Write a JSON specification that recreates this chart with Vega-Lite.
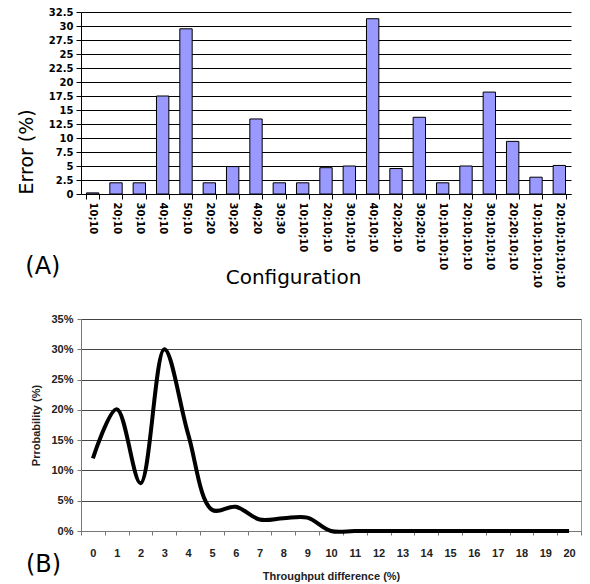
{
  "$schema": "https://vega.github.io/schema/vega-lite/v6.json",
  "background": "white",
  "padding": {"left": 17, "top": 7, "right": 5, "bottom": 0},
  "bounds": "flush",
  "spacing": 125,
  "config": {"view": {"stroke": null}},
  "datasets": {
    "bars": [
      {"config": "10;10", "error": 0.2},
      {"config": "20;10", "error": 2.0},
      {"config": "30;10", "error": 2.0},
      {"config": "40;10", "error": 17.5},
      {"config": "50;10", "error": 29.5},
      {"config": "20;20", "error": 2.0},
      {"config": "30;20", "error": 4.9},
      {"config": "40;20", "error": 13.4},
      {"config": "30;30", "error": 2.0},
      {"config": "10;10;10", "error": 2.0},
      {"config": "20;10;10", "error": 4.7},
      {"config": "30;10;10", "error": 5.0},
      {"config": "40;10;10", "error": 31.3},
      {"config": "20;20;10", "error": 4.55},
      {"config": "30;20;10", "error": 13.7},
      {"config": "10;10;10;10", "error": 2.0},
      {"config": "20;10;10;10", "error": 5.0},
      {"config": "30;10;10;10", "error": 18.2},
      {"config": "20;20;10;10", "error": 9.4},
      {"config": "10;10;10;10;10", "error": 3.0},
      {"config": "20;10;10;10;10", "error": 5.1}
    ],
    "curve": [
      {"d": 0, "p": 12.0},
      {"d": 1, "p": 20.1},
      {"d": 2, "p": 7.9},
      {"d": 3, "p": 30.0},
      {"d": 4, "p": 16.0},
      {"d": 5, "p": 3.5},
      {"d": 6, "p": 4.0},
      {"d": 7, "p": 1.9},
      {"d": 8, "p": 2.1},
      {"d": 9, "p": 2.2},
      {"d": 10, "p": 0},
      {"d": 11, "p": 0},
      {"d": 12, "p": 0},
      {"d": 13, "p": 0},
      {"d": 14, "p": 0},
      {"d": 15, "p": 0},
      {"d": 16, "p": 0},
      {"d": 17, "p": 0},
      {"d": 18, "p": 0},
      {"d": 19, "p": 0},
      {"d": 20, "p": 0}
    ]
  },
  "vconcat": [
    {
      "width": 490,
      "height": 182,
      "data": {"name": "bars"},
      "title": {"text": "(A)", "orient": "bottom", "anchor": "start", "frame": "bounds", "offset": -33, "dx": 8, "font": "DejaVu Sans", "fontSize": 24, "fontWeight": "normal", "color": "#000"},
      "mark": {"type": "bar", "fill": "#9999ff", "stroke": "#000", "strokeWidth": 1},
      "encoding": {
        "x": {
          "field": "config", "type": "ordinal", "sort": null,
          "scale": {"paddingInner": 0.47, "paddingOuter": 0.235},
          "axis": {
            "title": "Configuration", "titleFont": "DejaVu Sans", "titleFontSize": 20, "titleFontWeight": "normal", "titleColor": "#000",
            "titleX": 212, "titleY": 89, "titleBaseline": "alphabetic",
            "labelAngle": 90, "labelFont": "DejaVu Sans", "labelFontSize": 10, "labelFontWeight": "bold", "labelColor": "#000",
            "labelPadding": 3, "tickSize": 5, "tickColor": "#000", "domainColor": "#000", "tickBand": "extent"
          }
        },
        "y": {
          "field": "error", "type": "quantitative",
          "scale": {"domain": [0, 32.5], "nice": false},
          "axis": {
            "title": "Error (%)", "titleFont": "DejaVu Sans", "titleFontSize": 19, "titleFontWeight": "normal", "titleColor": "#000",
            "titleAnchor": "start", "titlePadding": 12,
            "values": [0, 2.5, 5, 7.5, 10, 12.5, 15, 17.5, 20, 22.5, 25, 27.5, 30, 32.5],
            "labelExpr": "datum.value + ''",
            "labelFont": "DejaVu Sans", "labelFontSize": 10, "labelFontWeight": "bold", "labelColor": "#000", "labelPadding": 3,
            "tickSize": 5, "tickColor": "#000", "domainColor": "#000",
            "grid": true, "gridColor": "#000", "gridOpacity": 1
          }
        }
      }
    },
    {
      "width": 500,
      "height": 212,
      "data": {"name": "curve"},
      "view": {"stroke": "#999", "strokeWidth": 1},
      "title": {"text": "(B)", "orient": "bottom", "anchor": "start", "frame": "bounds", "offset": -28, "dx": -5, "font": "DejaVu Sans", "fontSize": 24, "fontWeight": "normal", "color": "#000"},
      "mark": {"type": "line", "interpolate": "catmull-rom", "stroke": "#000", "strokeWidth": 4},
      "encoding": {
        "x": {
          "field": "d", "type": "ordinal", "bandPosition": 0.5,
          "scale": {"type": "band", "paddingInner": 0, "paddingOuter": 0},
          "axis": {
            "title": "Throughput difference (%)", "titleFont": "Liberation Sans", "titleFontSize": 11, "titleFontWeight": "bold", "titleColor": "#222",
            "titlePadding": 12,
            "labelAngle": 0, "labelFont": "Liberation Sans", "labelFontSize": 11, "labelFontWeight": "bold", "labelColor": "#222",
            "labelPadding": 12, "tickSize": 4, "tickColor": "#777", "domainColor": "#777", "tickBand": "extent"
          }
        },
        "y": {
          "field": "p", "type": "quantitative",
          "scale": {"domain": [0, 35], "nice": false},
          "axis": {
            "title": "Prrobability (%)", "titleFont": "Liberation Sans", "titleFontSize": 11, "titleFontWeight": "bold", "titleColor": "#222",
            "titlePadding": 9,
            "values": [0, 5, 10, 15, 20, 25, 30, 35],
            "labelExpr": "datum.value + '%'",
            "labelFont": "Liberation Sans", "labelFontSize": 11, "labelFontWeight": "bold", "labelColor": "#222", "labelPadding": 4,
            "tickSize": 4, "tickColor": "#777", "domainColor": "#777",
            "grid": true, "gridColor": "#444", "gridOpacity": 1
          }
        }
      }
    }
  ]
}
